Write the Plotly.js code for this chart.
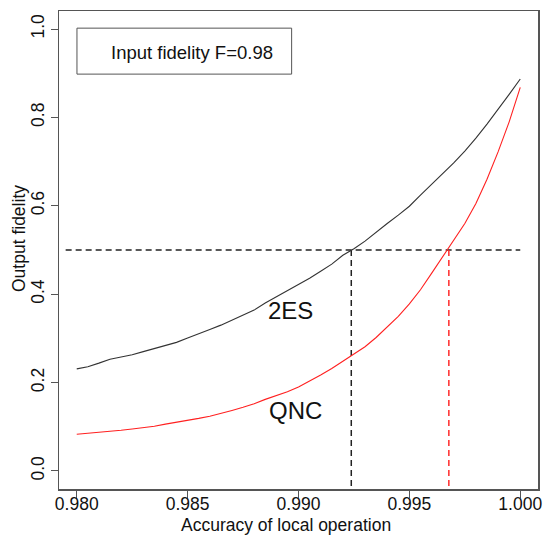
<!DOCTYPE html>
<html>
<head>
<meta charset="utf-8">
<script src="https://cdn.plot.ly/plotly-3.0.1.min.js"></script>
<style>html,body{margin:0;padding:0;background:#fff;}#chart{width:545px;height:535px;}</style>
</head>
<body>
<div id="chart"></div>
<script>
// Accuracy of local operation (x)
const accuracy = [0.9800,0.9805,0.9810,0.9815,0.9820,0.9825,0.9830,0.9835,0.9840,0.9845,
  0.9850,0.9855,0.9860,0.9865,0.9870,0.9875,0.9880,0.9885,0.9890,0.9895,
  0.9900,0.9905,0.9910,0.9915,0.9920,0.9925,0.9930,0.9935,0.9940,0.9945,
  0.9950,0.9955,0.9960,0.9965,0.9970,0.9975,0.9980,0.9985,0.9990,0.9995,1.0000];
// Output fidelity, 2ES (black)
const fid2ES = [0.231,0.236,0.244,0.253,0.258,0.263,0.270,0.277,0.284,0.291,
  0.301,0.310,0.320,0.330,0.341,0.352,0.364,0.380,0.394,0.407,
  0.421,0.436,0.452,0.468,0.488,0.503,0.520,0.541,0.560,0.579,
  0.599,0.624,0.648,0.673,0.697,0.724,0.753,0.785,0.818,0.852,0.887];
// Output fidelity, QNC (red)
const fidQNC = [0.083,0.085,0.087,0.090,0.092,0.095,0.098,0.101,0.106,0.110,
  0.115,0.119,0.124,0.130,0.137,0.144,0.152,0.162,0.171,0.179,
  0.190,0.203,0.217,0.232,0.249,0.265,0.281,0.302,0.325,0.350,
  0.378,0.410,0.447,0.485,0.521,0.560,0.605,0.660,0.722,0.790,0.868];
// Threshold and crossing points
const threshold = 0.5;
const thresholdSpan = [0.9795, 1.000];
const cross2ES = 0.99238;
const crossQNC = 0.99678;
const yBottom = -0.0408;
const xTicks = [0.980,0.985,0.990,0.995,1.000];
const yTicks = [0.0,0.2,0.4,0.6,0.8,1.0];
const legendText = "Input fidelity F=0.98";

const FONT = "Liberation Sans, Arial, Helvetica, sans-serif";
const dash = "6px,4px";

const traces = [
  {x: thresholdSpan, y: [threshold, threshold], mode: "lines",
   line: {color: "#222", width: 1.5, dash: dash}, hoverinfo: "skip"},
  {x: [cross2ES, cross2ES], y: [threshold, yBottom], mode: "lines",
   line: {color: "#222", width: 1.5, dash: dash}, hoverinfo: "skip"},
  {x: [crossQNC, crossQNC], y: [threshold, yBottom], mode: "lines",
   line: {color: "#ff2a2a", width: 1.5, dash: dash}, hoverinfo: "skip"},
  {x: accuracy, y: fid2ES, mode: "lines", name: "2ES",
   line: {color: "#333", width: 1.1}},
  {x: accuracy, y: fidQNC, mode: "lines", name: "QNC",
   line: {color: "#ff2020", width: 1.1}}
];

const layout = {
  width: 545, height: 535,
  margin: {l: 59, r: 7, t: 11, b: 46},
  paper_bgcolor: "#fff", plot_bgcolor: "#fff",
  showlegend: false,
  font: {family: FONT, color: "#111", size: 17.5},
  xaxis: {
    range: [0.9792, 1.0008], tickvals: xTicks, tickformat: ".3f",
    ticks: "outside", ticklen: 7, tickcolor: "#555", tickwidth: 1,
    ticklabelstandoff: -9,
    showline: true, linecolor: "#555", linewidth: 1.5, mirror: true,
    showgrid: false, zeroline: false,
    tickfont: {family: FONT, size: 17.5, color: "#111"}
  },
  yaxis: {
    range: [-0.0408, 1.0408], tickvals: yTicks, tickformat: ".1f",
    tickangle: -90,
    ticks: "outside", ticklen: 7, tickcolor: "#555", tickwidth: 1,
    showline: true, linecolor: "#555", linewidth: 1.5, mirror: true,
    showgrid: false, zeroline: false,
    tickfont: {family: FONT, size: 17.5, color: "#111"}
  },
  shapes: [
    {type: "rect", xref: "x", yref: "y", x0: 0.98001, x1: 0.98969, y0: 0.898, y1: 1.002,
     line: {color: "#555", width: 1}, fillcolor: "rgba(0,0,0,0)"}
  ],
  annotations: [
    {text: legendText, xref: "x", yref: "y", x: 0.98893, y: 0.948,
     xanchor: "right", yanchor: "middle", showarrow: false,
     font: {family: FONT, size: 18.5, color: "#111"}},
    {text: "2ES", xref: "x", yref: "y", x: 0.98965, y: 0.363,
     xanchor: "center", yanchor: "middle", showarrow: false,
     font: {family: FONT, size: 24, color: "#111"}},
    {text: "QNC", xref: "x", yref: "y", x: 0.98985, y: 0.137,
     xanchor: "center", yanchor: "middle", showarrow: false,
     font: {family: FONT, size: 24, color: "#111"}},
    {text: "Accuracy of local operation", xref: "paper", yref: "paper",
     x: 0.474, y: 0, yshift: -36, xanchor: "center", yanchor: "middle",
     showarrow: false, font: {family: FONT, size: 17.5, color: "#111"}},
    {text: "Output fidelity", xref: "paper", yref: "paper",
     x: 0, xshift: -40, y: 0.523, xanchor: "center", yanchor: "middle",
     textangle: -90, showarrow: false,
     font: {family: FONT, size: 17.5, color: "#111"}}
  ]
};

Plotly.newPlot("chart", traces, layout, {displayModeBar: false, staticPlot: true});
</script>
</body>
</html>
